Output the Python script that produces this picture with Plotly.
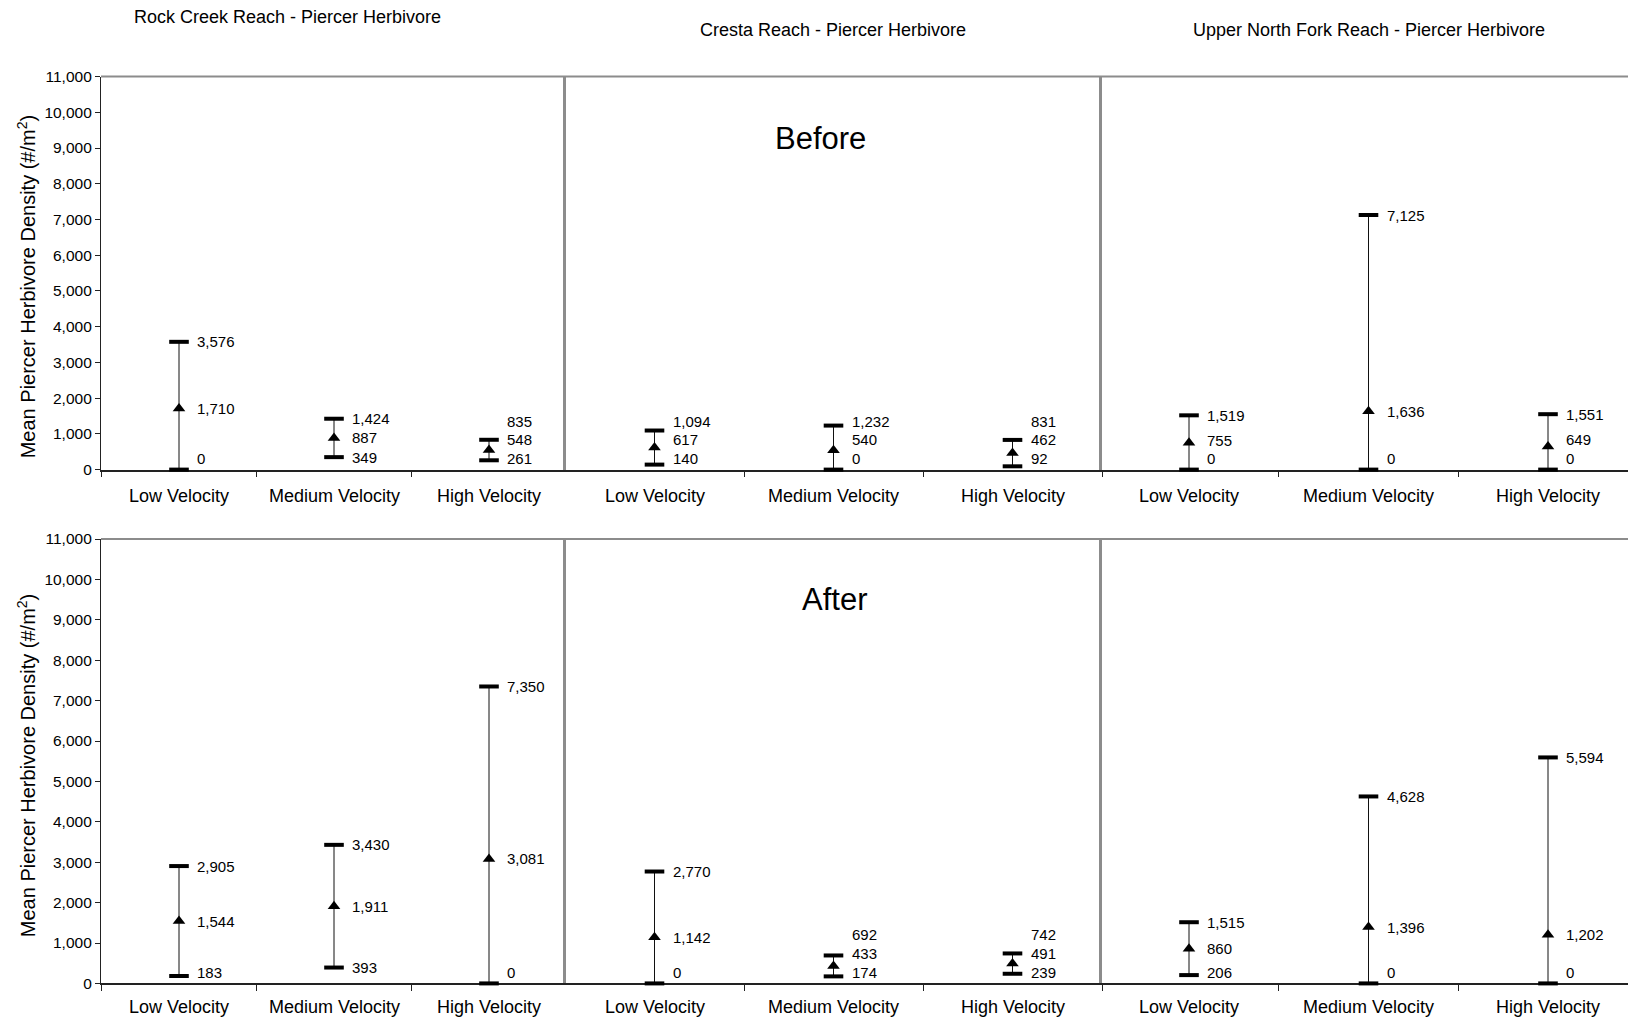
import plotly.graph_objects as go

# ---------------- data ----------------
categories = ["Low Velocity", "Medium Velocity", "High Velocity"]
reaches = ["Rock Creek Reach - Piercer Herbivore",
           "Cresta Reach - Piercer Herbivore",
           "Upper North Fork Reach - Piercer Herbivore"]
periods = ["Before", "After"]

before_rock_hi = [3576, 1424, 835]
before_rock_mean = [1710, 887, 548]
before_rock_lo = [0, 349, 261]

before_cresta_hi = [1094, 1232, 831]
before_cresta_mean = [617, 540, 462]
before_cresta_lo = [140, 0, 92]

before_unf_hi = [1519, 7125, 1551]
before_unf_mean = [755, 1636, 649]
before_unf_lo = [0, 0, 0]

after_rock_hi = [2905, 3430, 7350]
after_rock_mean = [1544, 1911, 3081]
after_rock_lo = [183, 393, 0]

after_cresta_hi = [2770, 692, 742]
after_cresta_mean = [1142, 433, 491]
after_cresta_lo = [0, 174, 239]

after_unf_hi = [1515, 4628, 5594]
after_unf_mean = [860, 1396, 1202]
after_unf_lo = [206, 0, 0]

y_ticks = list(range(0, 11001, 1000))

panels = [
    [(before_rock_hi, before_rock_mean, before_rock_lo),
     (before_cresta_hi, before_cresta_mean, before_cresta_lo),
     (before_unf_hi, before_unf_mean, before_unf_lo)],
    [(after_rock_hi, after_rock_mean, after_rock_lo),
     (after_cresta_hi, after_cresta_mean, after_cresta_lo),
     (after_unf_hi, after_unf_mean, after_unf_lo)],
]

# ---------------- geometry (pixels) ----------------
W, H = 1628, 1022
FONT = "Liberation Sans, Arial, sans-serif"
row_px = [(68.7, 468.4), (539.0, 990.9)]       # top, bottom of plot rows
col_px = [(101, 566), (566, 1102), (1102, 1628)]
first_center = [179.0, 654.5, 1189.0]
cat_spacing = [155.0, 179.0, 179.5]
cat_label_shift = [-26, -24]
ytitle_center = [283, 770]


def px_x(p):
    return p / W


def px_y(p):
    return 1 - p / H


fig = go.Figure()
annotations = []
shapes = []
layout_axes = {}

for r in range(2):
    top, bot = row_px[r]
    ppu = (bot - top) / 11000.0
    for c in range(3):
        n = r * 3 + c + 1
        xname = "x" if n == 1 else f"x{n}"
        yname = "y" if n == 1 else f"y{n}"
        xkey = "xaxis" if n == 1 else f"xaxis{n}"
        ykey = "yaxis" if n == 1 else f"yaxis{n}"
        x0, x1 = col_px[c]
        c0, sp = first_center[c], cat_spacing[c]
        layout_axes[xkey] = dict(
            domain=[px_x(x0), px_x(x1)],
            range=[-(c0 - x0) / sp, (x1 - c0) / sp],
            anchor=yname, showgrid=False, zeroline=False,
            showline=True, linecolor="#222222", linewidth=1.5,
            tickmode="array", tickvals=[-0.5, 0.5, 1.5, 2.5],
            ticks="outside", ticklen=6, tickcolor="#222222", tickwidth=1,
            showticklabels=False, fixedrange=True, layer="below traces",
        )
        ydict = dict(
            domain=[px_y(bot), px_y(top)], range=[0, 11000],
            anchor=xname, showgrid=False, zeroline=False, fixedrange=True,
        )
        if c == 0:
            ydict.update(showline=True, linecolor="#222222", linewidth=1.2,
                         tickmode="array", tickvals=y_ticks,
                         tickformat=",", ticks="outside", ticklen=5,
                         tickcolor="#222222",
                         tickfont=dict(family=FONT, size=15.5, color="black"))
        else:
            ydict.update(showline=True, linecolor="#8c8c8c", linewidth=3,
                         showticklabels=False, ticks="")
        layout_axes[ykey] = ydict

        hi, mean, lo = panels[r][c]
        xs = list(range(len(categories)))
        lx, ly = [], []
        for i in xs:
            lx += [i, i, None]
            ly += [lo[i], hi[i], None]
        fig.add_trace(go.Scatter(x=lx, y=ly, mode="lines", xaxis=xname, yaxis=yname,
                                 line=dict(color="#111111", width=1),
                                 hoverinfo="skip", showlegend=False, cliponaxis=False))
        for vals in (hi, lo):
            fig.add_trace(go.Scatter(x=xs, y=vals, mode="markers", xaxis=xname, yaxis=yname,
                                     marker=dict(symbol="line-ew", size=14,
                                                 line=dict(color="black", width=4)),
                                     showlegend=False, cliponaxis=False))
        fig.add_trace(go.Scatter(x=xs, y=mean, mode="markers", xaxis=xname, yaxis=yname,
                                 marker=dict(symbol="triangle-up", size=11, color="black"),
                                 showlegend=False, cliponaxis=False))

        # data labels with simple overlap avoidance (pixel based)
        for i in xs:
            a_lo = max(lo[i] * ppu, 11)
            a_m = max(mean[i] * ppu, a_lo + 19)
            a_h = max(hi[i] * ppu, a_m + 19)
            for v, a in ((lo[i], a_lo), (mean[i], a_m), (hi[i], a_h)):
                annotations.append(dict(
                    x=i, y=v, xref=xname, yref=yname, text=f"{v:,}",
                    showarrow=False, xanchor="left", yanchor="middle",
                    xshift=16, yshift=a - v * ppu,
                    font=dict(family=FONT, size=15, color="black")))
            annotations.append(dict(
                x=i, y=px_y(bot), xref=xname, yref="paper", text=categories[i],
                showarrow=False, xanchor="center", yanchor="middle",
                yshift=cat_label_shift[r],
                font=dict(family=FONT, size=18, color="black")))

    # gray top border line across the row
    shapes.append(dict(type="line", xref="paper", yref="paper",
                       x0=px_x(col_px[0][0]), x1=1, y0=px_y(top), y1=px_y(top),
                       line=dict(color="#8c8c8c", width=2)))
    # y axis title
    annotations.append(dict(
        x=px_x(26), y=px_y(ytitle_center[r]), xref="paper", yref="paper",
        text="Mean Piercer Herbivore Density (#/m<sup>2</sup>)", textangle=-90,
        showarrow=False, xanchor="center", yanchor="middle",
        font=dict(family=FONT, size=20, color="black")))

# reach titles
title_pos = [(287, 8.5), (833, 21.7), (1369, 21.7)]
for t, (tx, ty) in zip(reaches, title_pos):
    annotations.append(dict(x=px_x(tx), y=px_y(ty), xref="paper", yref="paper", text=t,
                            showarrow=False, xanchor="center", yanchor="middle",
                            font=dict(family=FONT, size=18, color="black")))

# period labels
period_pos = [(820, 131.7), (834, 600)]
for t, (tx, ty) in zip(periods, period_pos):
    annotations.append(dict(x=px_x(tx), y=px_y(ty), xref="paper", yref="paper", text=t,
                            showarrow=False, xanchor="center", yanchor="middle",
                            font=dict(family=FONT, size=31, color="black")))

fig.update_layout(
    width=W, height=H, autosize=False,
    margin=dict(l=0, r=0, t=0, b=0, pad=0),
    paper_bgcolor="white", plot_bgcolor="white",
    showlegend=False, annotations=annotations, shapes=shapes,
    font=dict(family=FONT, color="black"),
    **layout_axes,
)

fig.write_html("out.html", config={"displayModeBar": False},
               post_script="document.body.style.margin='0';document.body.style.overflow='hidden';")
